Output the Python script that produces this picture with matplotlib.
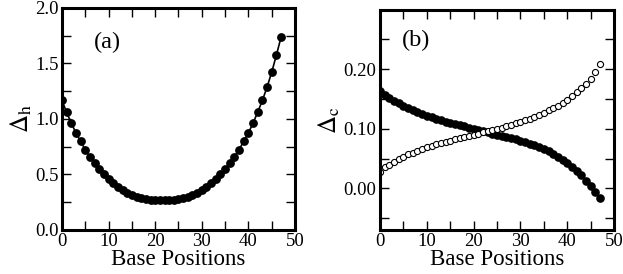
import numpy as np
import matplotlib.pyplot as plt

plt.rcParams['font.family'] = ['Liberation Serif', 'DejaVu Serif']
plt.rcParams['mathtext.fontset'] = 'stix'

# base positions 0..47
pos = list(range(48))

# panel (a): Delta_h
delta_h = [1.166, 1.058, 0.962, 0.873, 0.797, 0.722, 0.657, 0.600, 0.550, 0.505,
           0.462, 0.425, 0.390, 0.360, 0.335, 0.315, 0.300, 0.288, 0.279, 0.273,
           0.269, 0.267, 0.267, 0.269, 0.273, 0.279, 0.288, 0.300, 0.315, 0.335,
           0.360, 0.390, 0.425, 0.462, 0.505, 0.550, 0.600, 0.657, 0.724, 0.798,
           0.873, 0.962, 1.061, 1.166, 1.285, 1.420, 1.572, 1.734]

# panel (b): Delta_c, filled and open symbols
delta_c_filled = [0.163, 0.157, 0.152, 0.147, 0.143, 0.139, 0.135, 0.132, 0.128, 0.125,
                  0.122, 0.120, 0.117, 0.115, 0.112, 0.110, 0.108, 0.106, 0.104, 0.102,
                  0.100, 0.098, 0.096, 0.094, 0.092, 0.090, 0.088, 0.086, 0.084, 0.082,
                  0.080, 0.077, 0.075, 0.072, 0.069, 0.066, 0.062, 0.058, 0.053, 0.048,
                  0.042, 0.036, 0.029, 0.022, 0.013, 0.004, -0.006, -0.017]
delta_c_open = [0.028, 0.035, 0.040, 0.045, 0.049, 0.053, 0.057, 0.060, 0.063, 0.066,
                0.069, 0.071, 0.074, 0.076, 0.078, 0.080, 0.082, 0.084, 0.086, 0.088,
                0.090, 0.092, 0.094, 0.096, 0.098, 0.100, 0.102, 0.104, 0.106, 0.109,
                0.111, 0.114, 0.117, 0.120, 0.123, 0.127, 0.131, 0.135, 0.139, 0.144,
                0.149, 0.155, 0.161, 0.168, 0.175, 0.184, 0.195, 0.2085]

fig = plt.figure(figsize=(6.23, 2.74), dpi=100)
ax1 = fig.add_axes([0.0995, 0.1606, 0.374, 0.811])
ax2 = fig.add_axes([0.610, 0.1606, 0.3756, 0.804])


def style(ax):
    for s in ax.spines.values():
        s.set_linewidth(2.2)
    ax.tick_params(which='both', direction='in', top=True, right=True,
                   length=6.5, width=1, labelsize=13.5, pad=2.5)
    ax.set_xlim(0, 50)
    ax.set_xticks([0, 10, 20, 30, 40, 50])
    ax.set_xticks(np.arange(5, 50, 10), minor=True)
    ax.set_xlabel('Base Positions', fontsize=16.5, labelpad=-1)


ax1.plot(pos, delta_h, '-o', color='black', lw=1.2, ms=5.3)
style(ax1)
ax1.set_ylim(0, 2.0)
ax1.set_yticks([0, 0.5, 1.0, 1.5, 2.0])
ax1.set_yticks([0.25, 0.75, 1.25, 1.75], minor=True)
ax1.set_yticklabels(['0.0', '0.5', '1.0', '1.5', '2.0'])
ax1.set_ylabel(r'$\Delta_{\rm h}$', fontsize=18, labelpad=1)
ax1.text(0.135, 0.846, '(a)', transform=ax1.transAxes, fontsize=17.5, va='center')

ax2.plot(pos, delta_c_filled, 'o', color='black', ms=5.2)
ax2.plot(pos, delta_c_open, 'o', mfc='white', mec='black', mew=0.8, ms=4.4)
style(ax2)
ax2.set_ylim(-0.07, 0.30)
ax2.set_yticks([0.0, 0.1, 0.2])
ax2.set_yticks([-0.05, 0.05, 0.15, 0.25], minor=True)
ax2.set_yticklabels(['0.00', '0.10', '0.20'])
ax2.set_ylabel(r'$\Delta_{\rm c}$', fontsize=18, labelpad=1)
ax2.text(0.093, 0.862, '(b)', transform=ax2.transAxes, fontsize=17.5, va='center')

fig.savefig('out.png', dpi=100)
